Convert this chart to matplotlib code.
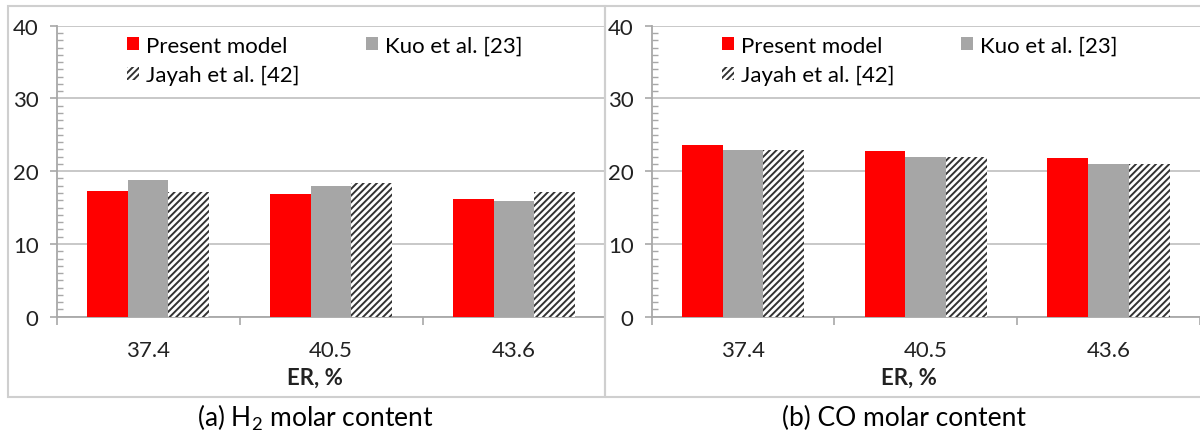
import matplotlib
matplotlib.use("Agg")
import matplotlib.pyplot as plt
import numpy as np
from matplotlib.patches import Rectangle
from matplotlib.ticker import MultipleLocator, FixedLocator

plt.rcParams['font.family'] = ['Lato', 'DejaVu Sans']
plt.rcParams['hatch.linewidth'] = 1.4

# equivalence ratio categories
er_labels = ["37.4", "40.5", "43.6"]

# H2 molar content (%)
h2_present = [17.25, 16.9, 16.2]
h2_kuo = [18.85, 17.9, 15.9]
h2_jayah = [17.15, 18.35, 17.15]

# CO molar content (%)
co_present = [23.65, 22.8, 21.85]
co_kuo = [22.95, 22.0, 21.0]
co_jayah = [22.95, 22.0, 21.0]

series_names = ["Present model", "Kuo et al. [23]", "Jayah et al. [42]"]
captions = ["(a) $\\mathregular{H_2}$ molar content", "(b) CO molar content"]

W, H = 1200, 439
fig = plt.figure(figsize=(W / 100, H / 100), dpi=100)

RED = "#ff0000"
GREY = "#a6a6a6"
HATCH_INK = "#333333"
GRID = "#c4c4c4"
AXIS = "#a8a8a8"
FS = 16


def px_axes(x0, y_top, x1, y_bot):
    return fig.add_axes([x0 / W, 1 - y_bot / H, (x1 - x0) / W, (y_bot - y_top) / H])


def draw_panel(ax, present, kuo, jayah):
    x = np.arange(len(er_labels))
    w = 0.223
    b1 = ax.bar(x - w, present, w, color=RED, linewidth=0, zorder=3)
    b2 = ax.bar(x, kuo, w, color=GREY, linewidth=0, zorder=3)
    b3 = ax.bar(x + w, jayah, w, facecolor="white", edgecolor=HATCH_INK,
                hatch="/////", linewidth=0, zorder=3)

    ax.set_xlim(-0.5, 2.5)
    ax.set_ylim(0, 40)
    ax.yaxis.set_major_locator(MultipleLocator(10))
    ax.yaxis.set_minor_locator(MultipleLocator(1))
    ax.grid(axis="y", which="major", color=GRID, linewidth=1.3, zorder=0)
    ax.set_axisbelow(True)

    ax.set_xticks(x)
    ax.set_xticklabels(er_labels)
    ax.xaxis.set_minor_locator(FixedLocator([-0.5, 0.5, 1.5, 2.5]))

    for s in ("top", "right"):
        ax.spines[s].set_visible(False)
    for s in ("left", "bottom"):
        ax.spines[s].set_color(AXIS)
        ax.spines[s].set_linewidth(1.3)

    ax.tick_params(axis="y", which="major", direction="out", length=5,
                   width=1.2, color=AXIS, labelsize=FS, pad=8, labelcolor="#222222")
    ax.tick_params(axis="y", which="minor", direction="in", length=4,
                   width=1.0, color=AXIS)
    ax.tick_params(axis="x", which="major", length=0, pad=17,
                   labelsize=FS, labelcolor="#222222")
    ax.tick_params(axis="x", which="minor", direction="out", length=6,
                   width=1.2, color=AXIS)

    ax.text(0.47, -0.207, "ER, %", transform=ax.transAxes, ha="center",
            va="center", fontsize=FS, fontweight="bold", color="#222222")

    # two-column legend filled row by row
    ax.legend([b1, b3, b2], [series_names[0], series_names[2], series_names[1]],
              ncol=2, loc="upper left", bbox_to_anchor=(0.128, 0.966),
              frameon=False, fontsize=FS, borderpad=0, borderaxespad=0,
              handlelength=0.55, handleheight=0.55, handletextpad=0.3,
              labelspacing=0.42, columnspacing=3.0)


ax1 = px_axes(56.6, 26.7, 605.5, 317.7)
draw_panel(ax1, h2_present, h2_kuo, h2_jayah)
ax2 = px_axes(651.7, 26.7, 1200.0, 317.7)
draw_panel(ax2, co_present, co_kuo, co_jayah)

# panel frames
for x0, x1 in [(8, 605), (605, 1205)]:
    fig.patches.append(Rectangle((x0 / W, 1 - 397.7 / H), (x1 - x0) / W, (397.7 - 7) / H,
                                 transform=fig.transFigure, fill=False,
                                 edgecolor="#cfcfcf", linewidth=1.5, zorder=0))

fig.text(315 / W, 1 - 418 / H, captions[0], ha="center", va="center", fontsize=19)
fig.text(904 / W, 1 - 418 / H, captions[1], ha="center", va="center", fontsize=19)

fig.savefig("out.png", dpi=100, facecolor="white")
